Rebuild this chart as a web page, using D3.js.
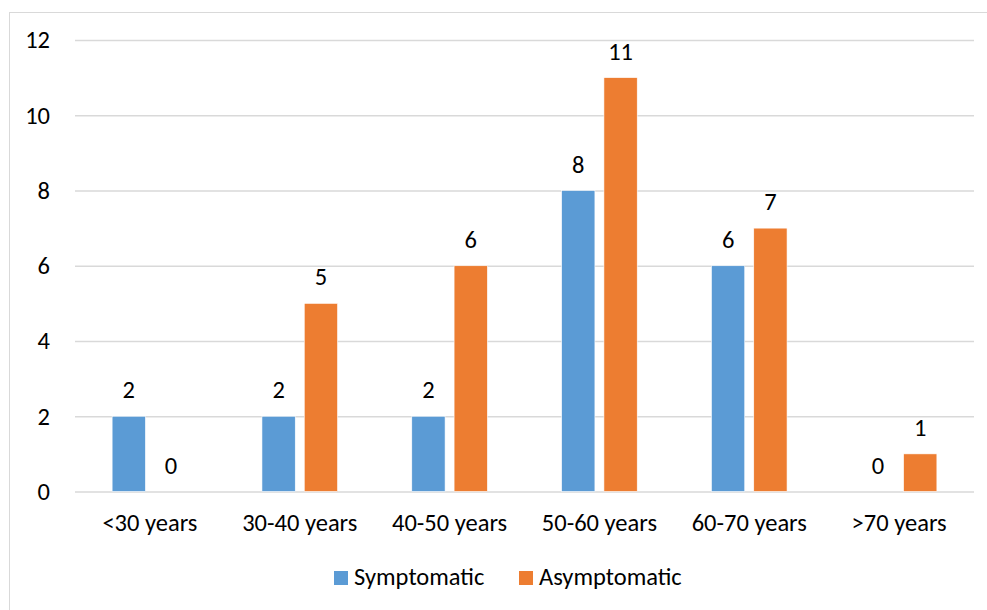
<!DOCTYPE html>
<html>
<head>
<meta charset="utf-8">
<script src="https://cdn.jsdelivr.net/npm/d3@7"></script>
<style>
  html, body { margin: 0; padding: 0; background: #fff; }
  svg { display: block; }
  text { font-family: Carlito, Calibri, Lato, "Open Sans", sans-serif; fill: #000; }
</style>
</head>
<body>
<svg id="chart" width="987" height="610"></svg>
<script>
// Age groups and patient counts per group
const categories = ["<30 years", "30-40 years", "40-50 years", "50-60 years", "60-70 years", ">70 years"];
const seriesNames = ["Symptomatic", "Asymptomatic"];
const symptomatic = [2, 2, 2, 8, 6, 0];
const asymptomatic = [0, 5, 6, 11, 7, 1];
const yTicks = [0, 2, 4, 6, 8, 10, 12];
const colors = ["#5B9BD5", "#ED7D31"];

const svg = d3.select("#chart");
const W = 987, H = 610;
const FONT = "Carlito, Calibri, Lato, 'Open Sans', sans-serif";
const FS = 24.5;
const plot = { left: 75, right: 974, top: 40, bottom: 491.5 };

// chart frame
svg.append("rect")
  .attr("x", 9.5).attr("y", 12.5)
  .attr("width", W + 10).attr("height", H + 10)
  .attr("fill", "none").attr("stroke", "#d9d9d9").attr("stroke-width", 1);

const x = d3.scaleBand().domain(categories).range([plot.left, plot.right]).padding(0);
const y = d3.scaleLinear().domain([0, 12]).range([plot.bottom, plot.top]);

// horizontal gridlines + y tick labels
const yAxis = d3.axisLeft(y).tickValues(yTicks).tickSize(-(plot.right - plot.left)).tickPadding(25);
const gy = svg.append("g").attr("transform", `translate(${plot.left},0)`).call(yAxis);
gy.select(".domain").remove();
gy.selectAll(".tick line").attr("stroke", "#d9d9d9").attr("stroke-width", 1.3);
gy.selectAll(".tick text").attr("font-size", FS).attr("fill", "#000").attr("font-family", FONT);

// x category labels
const xAxis = d3.axisBottom(x).tickSize(0).tickPadding(22);
const gx = svg.append("g").attr("transform", `translate(0,${plot.bottom})`).call(xAxis);
gx.select(".domain").remove();
gx.selectAll(".tick text").attr("font-size", FS).attr("fill", "#000").attr("font-family", FONT);

// grouped bars: two bars per category, centred, with a small gap between them
const half = 37.8;
const inner = d3.scaleBand().domain(seriesNames)
  .range([x.bandwidth() / 2 - half, x.bandwidth() / 2 + half])
  .paddingInner(0.2128).paddingOuter(0);

const rows = categories.map((c, i) => ({ cat: c, vals: [symptomatic[i], asymptomatic[i]] }));
const groups = svg.append("g").selectAll("g").data(rows).join("g")
  .attr("transform", d => `translate(${x(d.cat)},0)`);

groups.selectAll("rect").data(d => d.vals.map((v, j) => ({ v, j })))
  .join("rect")
  .attr("x", d => inner(seriesNames[d.j]))
  .attr("width", inner.bandwidth())
  .attr("y", d => y(d.v))
  .attr("height", d => y(0) - y(d.v))
  .attr("fill", d => colors[d.j])
  .attr("stroke", "#fff").attr("stroke-width", 0.6);

// value labels
groups.selectAll("text.val").data(d => d.vals.map((v, j) => ({ v, j })))
  .join("text").attr("class", "val")
  .attr("x", d => inner(seriesNames[d.j]) + inner.bandwidth() / 2)
  .attr("y", d => y(d.v) - 18)
  .attr("text-anchor", "middle")
  .attr("font-size", FS)
  .text(d => d.v);

// legend
const legendX = [334, 519];
const legend = svg.append("g");
seriesNames.forEach((name, i) => {
  legend.append("rect").attr("x", legendX[i]).attr("y", 571)
    .attr("width", 14).attr("height", 14).attr("fill", colors[i]);
  legend.append("text").attr("x", legendX[i] + 20).attr("y", 585)
    .attr("font-size", FS).text(name);
});
</script>
</body>
</html>
